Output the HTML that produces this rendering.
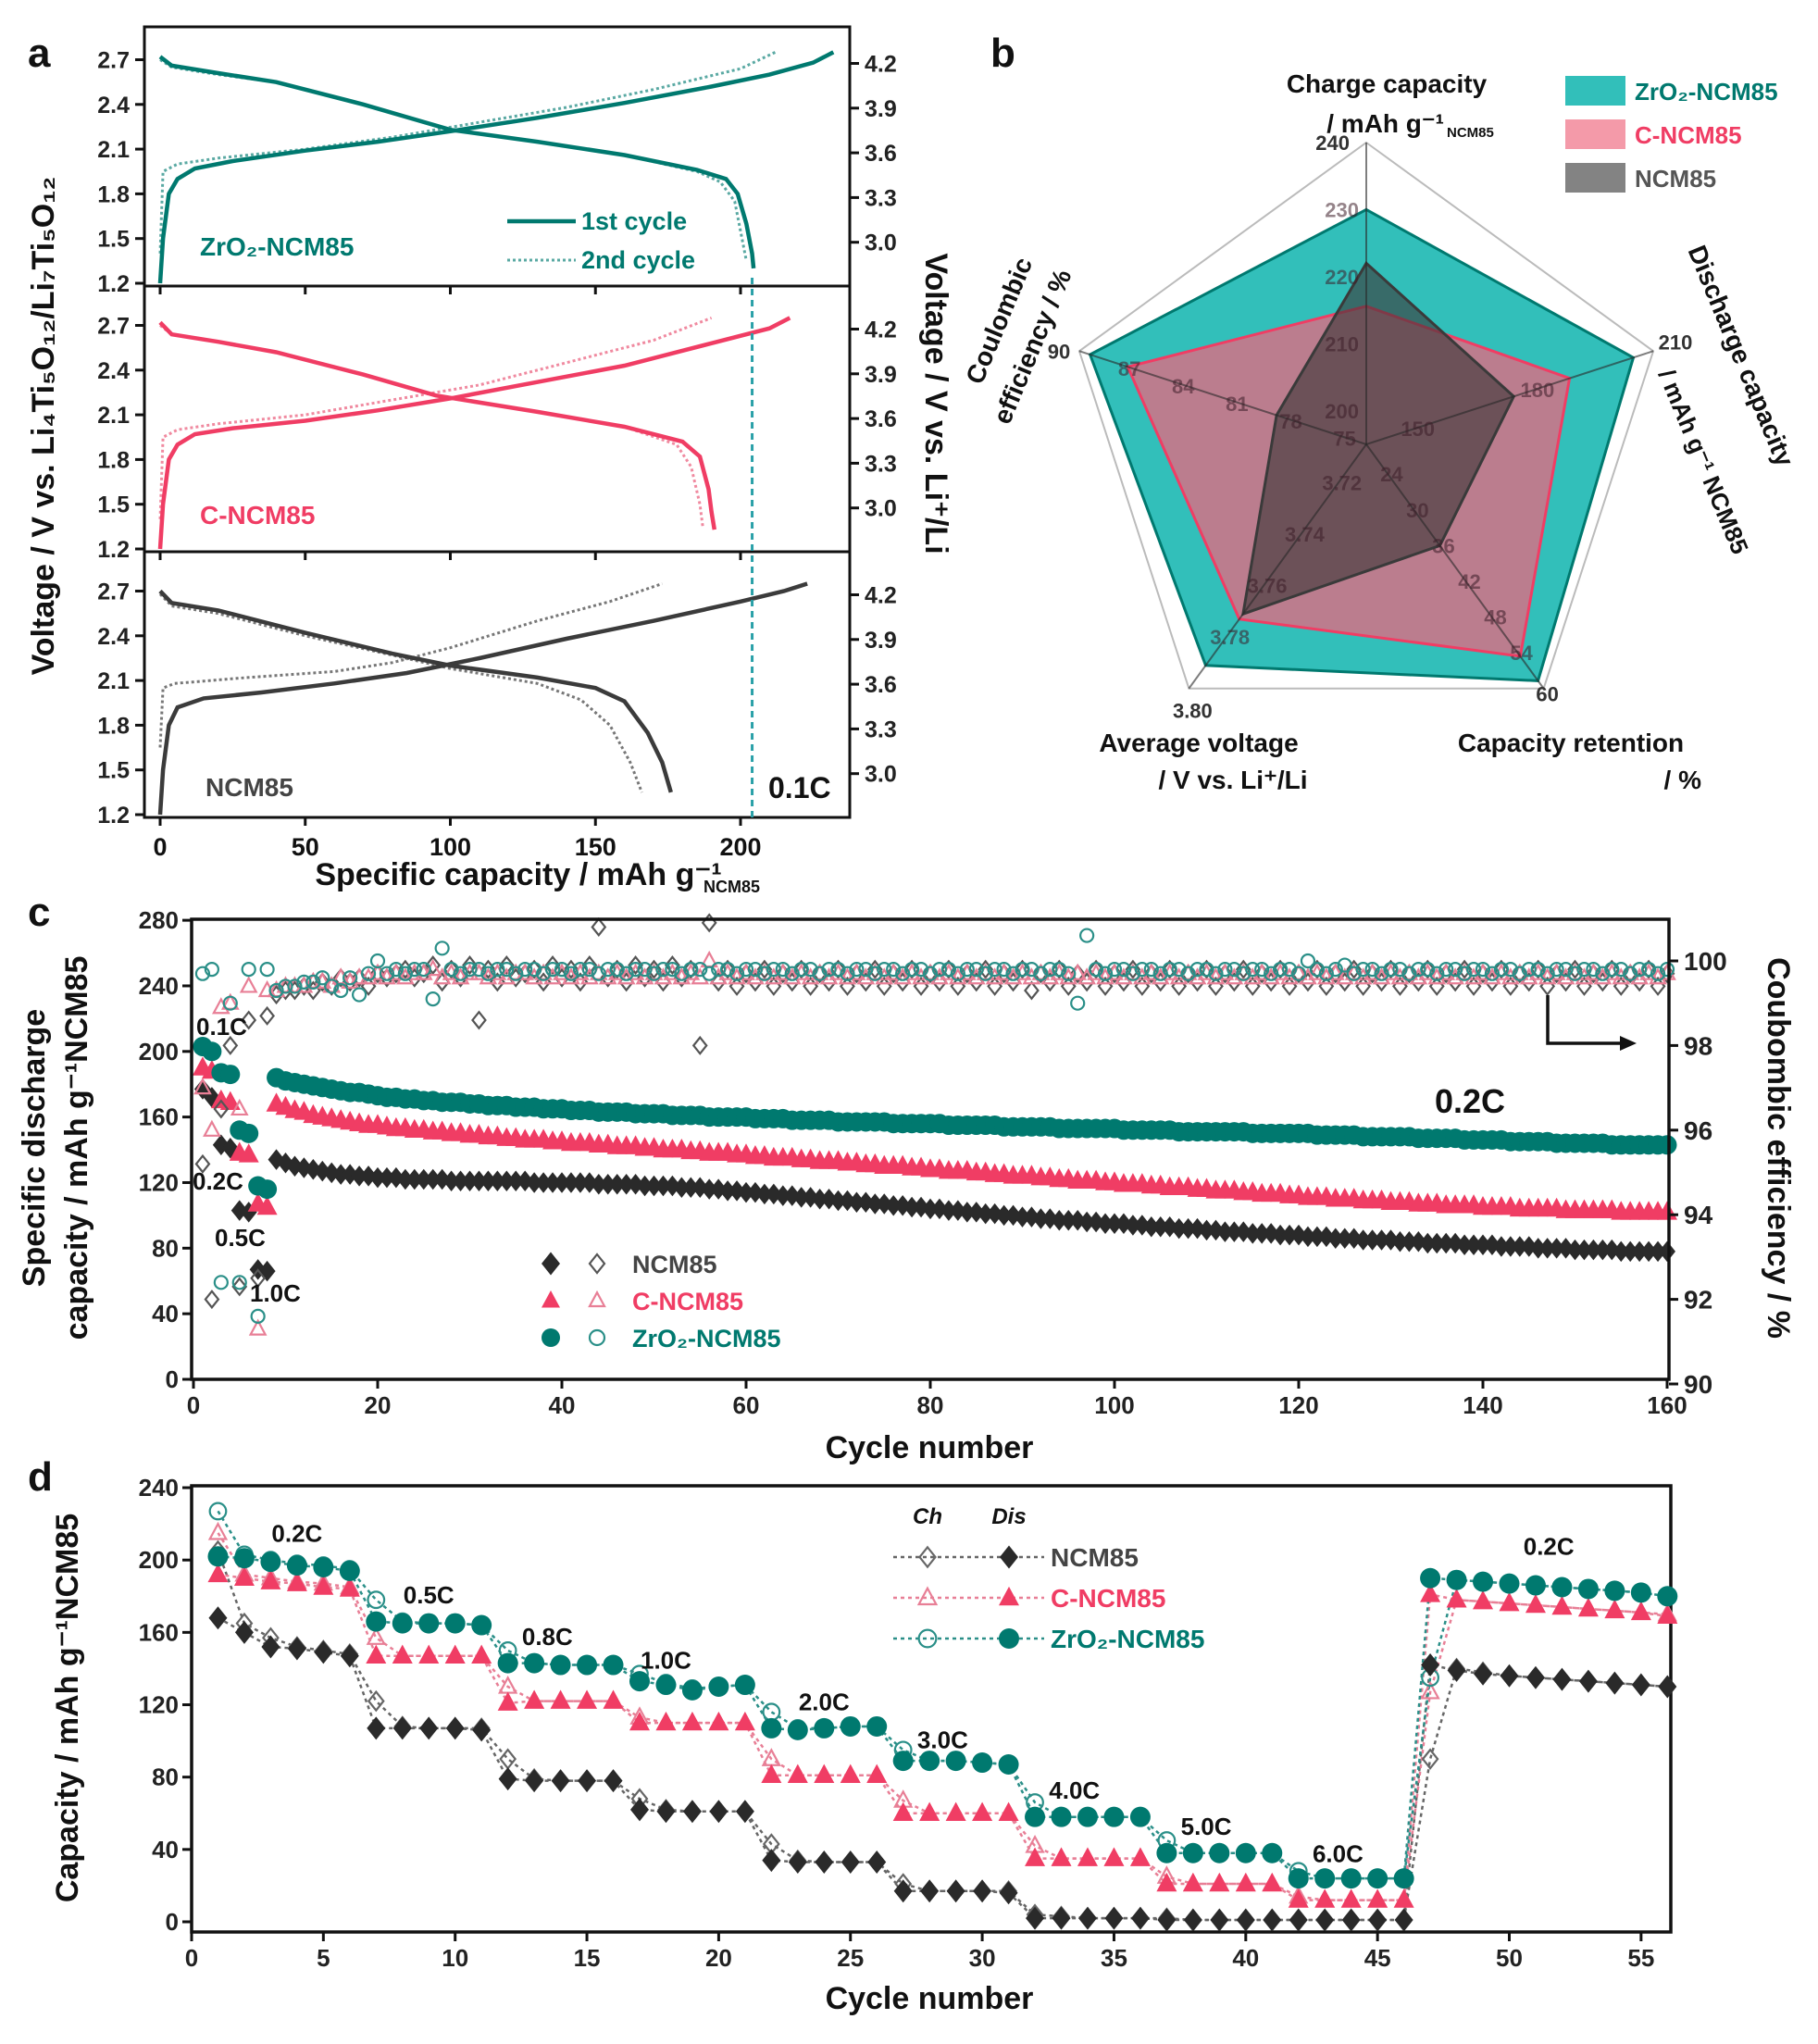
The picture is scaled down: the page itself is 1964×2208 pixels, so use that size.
<!DOCTYPE html>
<html><head><meta charset="utf-8">
<style>
html,body{margin:0;padding:0;background:#fff}
svg{display:block}
text{font-family:"Liberation Sans",sans-serif;font-weight:bold}
</style></head>
<body>
<svg id="fig" width="1964" height="2208" viewBox="0 0 1964 2208" xmlns="http://www.w3.org/2000/svg">
<g id="ga"></g>
<g id="gb"></g>
<g id="gc"></g>
<g id="gd"></g>
</svg>
<script>
// ===== Panel a data (capacity, voltage) =====
const zr1Ch=[[0,1.2],[1,1.5],[3,1.8],[6,1.9],[12,1.97],[25,2.02],[50,2.09],[75,2.15],[100,2.22],[130,2.31],[160,2.41],[190,2.52],[210,2.6],[225,2.68],[232,2.75]];
const zr1Dis=[[0,2.72],[4,2.66],[20,2.61],[40,2.55],[70,2.4],[100,2.23],[130,2.15],[160,2.06],[185,1.96],[195,1.9],[199,1.8],[202,1.6],[204,1.4],[204.5,1.3]];
const zr2Ch=[[0,1.4],[1,1.95],[6,2.0],[20,2.04],[50,2.1],[80,2.18],[110,2.28],[140,2.38],[170,2.5],[200,2.64],[212,2.75]];
const zr2Dis=[[0,2.7],[4,2.65],[20,2.6],[40,2.55],[70,2.4],[100,2.23],[130,2.15],[160,2.06],[185,1.95],[193,1.88],[198,1.75],[200,1.55],[202,1.35]];
const c1Ch=[[0,1.2],[1,1.5],[3,1.8],[6,1.9],[12,1.97],[25,2.01],[50,2.06],[75,2.13],[100,2.21],[130,2.32],[160,2.43],[190,2.58],[210,2.68],[217,2.75]];
const c1Dis=[[0,2.72],[4,2.64],[20,2.59],[40,2.52],[70,2.37],[95,2.23],[130,2.12],[160,2.02],[180,1.92],[186,1.82],[189,1.6],[190,1.45],[191,1.33]];
const c2Ch=[[0,1.4],[1,1.95],[6,2.0],[20,2.04],[50,2.1],[80,2.2],[110,2.3],[140,2.45],[170,2.6],[190,2.75]];
const c2Dis=[[0,2.7],[4,2.64],[20,2.59],[40,2.52],[70,2.37],[95,2.23],[130,2.12],[160,2.02],[178,1.9],[183,1.75],[186,1.5],[187,1.35]];
const n1Ch=[[0,1.2],[1,1.5],[3,1.8],[6,1.92],[15,1.98],[35,2.02],[60,2.08],[85,2.15],[110,2.25],[140,2.38],[170,2.5],[200,2.63],[215,2.7],[223,2.75]];
const n1Dis=[[0,2.7],[4,2.62],[20,2.57],[50,2.42],[80,2.28],[100,2.2],[130,2.12],[150,2.05],[160,1.96],[168,1.75],[173,1.55],[176,1.35]];
const n2Ch=[[0,1.65],[1,2.05],[5,2.08],[30,2.12],[60,2.16],[80,2.22],[100,2.32],[130,2.5],[155,2.63],[173,2.75]];
const n2Dis=[[0,2.68],[4,2.6],[20,2.55],[50,2.4],[80,2.27],[100,2.18],[130,2.08],[145,1.97],[155,1.8],[162,1.55],[166,1.35]];
const aYTicks=[1.2,1.5,1.8,2.1,2.4,2.7];
const aY2Ticks=[3.0,3.3,3.6,3.9,4.2];
const aXTicks=[0,50,100,150,200];

// ===== Panel b data =====
const bAxes=["Charge capacity","Discharge capacity","Capacity retention","Average voltage","Coulombic efficiency"];
const bMin=[195,138,19,3.705,74];
const bMax=[240,210,60,3.80,90];
const bZr=[230,205,58.7,3.791,89.4];
const bC=[215.6,189,54.6,3.773,87.3];
const bN=[222,175,36,3.771,79];
const bTickChargeV=[240,230,220,210,200];
const bTickDis=[210,180,150];
const bTickRet=[60,54,48,42,36,30,24];
const bTickVolt=[3.80,3.78,3.76,3.74,3.72];
const bTickCE=[90,87,84,81,78,75];

// ===== Panel c data =====
const capZr=[203,200,187,186,152,150,118,116,184,182,181,180,179,178,177,176,175,175,174,173,
172,172,171,171,170,170,169,169,169,168,168,167,167,167,166,166,166,165,165,165,
164,164,164,163,163,163,163,162,162,162,162,161,161,161,161,160,160,160,160,160,
159,159,159,159,158,158,158,158,158,157,157,157,157,157,157,156,156,156,156,156,
156,155,155,155,155,155,155,154,154,154,154,154,154,153,153,153,153,153,153,153,
152,152,152,152,152,152,151,151,151,151,151,151,151,151,150,150,150,150,150,150,
150,149,149,149,149,149,148,148,148,148,148,148,147,147,147,147,147,146,146,146,
146,146,145,145,145,145,145,144,144,144,144,144,144,143,143,143,143,143,143,143];
const capC=[190,188,170,169,138,137,107,105,168,166,164,163,161,160,159,158,157,156,155,155,
154,153,153,152,152,151,151,150,150,149,149,148,148,147,147,146,146,146,145,145,
144,144,144,143,143,142,142,142,141,141,140,140,140,139,139,138,138,138,137,137,
136,136,135,135,135,134,134,133,133,133,132,132,131,131,130,130,130,129,129,128,
128,127,127,127,126,126,125,125,124,124,124,123,123,122,122,121,121,121,120,120,
119,119,119,118,118,117,117,117,116,116,115,115,115,114,114,113,113,113,112,112,
111,111,111,110,110,110,109,109,109,108,108,108,107,107,107,106,106,106,106,105,
105,105,105,104,104,104,104,104,103,103,103,103,103,103,102,102,102,102,102,102];
const capN=[177,172,143,141,103,102,67,66,134,132,130,129,128,127,126,125,125,124,124,123,
123,123,122,122,122,122,122,121,121,121,121,121,121,121,121,121,120,120,120,120,
120,120,120,119,119,119,119,119,118,118,118,118,117,117,117,116,116,115,115,114,
114,113,113,112,112,111,111,110,110,109,109,108,108,107,107,106,106,105,105,104,
104,103,103,102,102,101,101,100,100,99,99,98,98,97,97,97,96,96,95,95,
95,94,94,93,93,93,92,92,92,91,91,90,90,90,89,89,89,88,88,88,
87,87,87,86,86,86,85,85,85,85,84,84,84,83,83,83,83,82,82,82,
82,81,81,81,81,80,80,80,80,79,79,79,79,79,78,78,78,78,78,78];
const ceN=[95.2,92.0,96.5,98.0,92.3,98.6,92.5,98.7,99.2,99.3,
99.3,99.4,99.3,99.5,99.4,99.6,99.5,99.6,99.4,99.7,99.6,99.7,99.8,99.6,99.7,99.9,99.5,99.8,99.6,99.9,
98.6,99.8,99.5,99.9,99.6,99.7,99.8,99.5,99.9,99.6,99.8,99.5,99.9,100.8,99.6,99.8,99.5,99.9,99.6,99.8,
99.5,99.9,99.6,99.8,98.0,100.9,99.5,99.8,99.4,99.7,99.5,99.8,99.4,99.7,99.5,99.8,99.4,99.7,99.5,99.8,
99.4,99.7,99.5,99.8,99.4,99.7,99.5,99.8,99.4,99.7,99.5,99.8,99.4,99.7,99.5,99.8,99.4,99.7,99.5,99.8,
99.3,99.7,99.5,99.8,99.4,99.7,99.5,99.8,99.4,99.7,99.5,99.8,99.4,99.7,99.5,99.8,99.4,99.7,99.5,99.8,
99.4,99.7,99.5,99.8,99.4,99.7,99.5,99.8,99.4,99.7,99.5,99.8,99.4,99.7,99.5,99.8,99.4,99.7,99.5,99.8,
99.4,99.7,99.5,99.8,99.4,99.7,99.5,99.8,99.4,99.7,99.5,99.8,99.4,99.7,99.5,99.8,99.4,99.7,99.5,99.8,
99.4,99.7,99.5,99.8,99.4,99.7,99.5,99.8,99.4,99.7];
const ceC=[97.0,96.0,98.9,99.0,96.5,99.4,91.3,99.3,99.3,99.4,
99.4,99.4,99.5,99.5,99.4,99.6,99.5,99.6,99.6,99.7,99.6,99.7,99.6,99.7,99.7,99.8,99.6,99.7,99.6,99.7,
99.7,99.6,99.7,99.6,99.7,99.7,99.6,99.7,99.6,99.7,99.6,99.7,99.6,99.7,99.6,99.7,99.6,99.7,99.6,99.7,
99.6,99.7,99.6,99.7,99.6,100.0,99.6,99.7,99.6,99.7,99.6,99.7,99.6,99.7,99.6,99.7,99.6,99.7,99.6,99.7,
99.6,99.7,99.6,99.7,99.6,99.7,99.6,99.7,99.6,99.7,99.6,99.7,99.6,99.7,99.6,99.7,99.6,99.7,99.6,99.7,
99.6,99.7,99.6,99.7,99.6,99.7,99.6,99.7,99.6,99.7,99.6,99.7,99.6,99.7,99.6,99.7,99.6,99.7,99.6,99.7,
99.6,99.7,99.6,99.7,99.6,99.7,99.6,99.7,99.6,99.7,99.6,99.7,99.6,99.7,99.6,99.7,99.6,99.7,99.6,99.7,
99.6,99.7,99.6,99.7,99.6,99.7,99.6,99.7,99.6,99.7,99.6,99.7,99.6,99.7,99.6,99.7,99.6,99.7,99.6,99.7,
99.6,99.7,99.6,99.7,99.6,99.7,99.6,99.7,99.6,99.7];
const ceZ=[99.7,99.8,92.4,99.0,92.4,99.8,91.6,99.8,99.3,99.4,
99.4,99.5,99.5,99.6,99.4,99.3,99.6,99.2,99.7,100.0,99.7,99.8,99.7,99.8,99.8,99.1,100.3,99.8,99.7,99.8,
99.8,99.7,99.8,99.8,99.7,99.8,99.8,99.7,99.8,99.8,99.7,99.8,99.8,99.7,99.8,99.8,99.7,99.8,99.8,99.7,
99.8,99.8,99.7,99.8,99.8,99.7,99.8,99.8,99.7,99.8,99.8,99.7,99.8,99.8,99.7,99.8,99.8,99.7,99.8,99.8,
99.7,99.8,99.8,99.7,99.8,99.8,99.7,99.8,99.8,99.7,99.8,99.8,99.7,99.8,99.8,99.7,99.8,99.8,99.7,99.8,
99.8,99.7,99.8,99.8,99.7,99.0,100.6,99.8,99.7,99.8,99.8,99.7,99.8,99.8,99.7,99.8,99.8,99.7,99.8,99.8,
99.7,99.8,99.8,99.7,99.8,99.8,99.7,99.8,99.8,99.7,100.0,99.8,99.7,99.8,99.9,99.7,99.8,99.8,99.7,99.8,
99.8,99.7,99.8,99.8,99.7,99.8,99.8,99.7,99.8,99.8,99.7,99.8,99.8,99.7,99.8,99.8,99.7,99.8,99.8,99.7,
99.8,99.8,99.7,99.8,99.8,99.7,99.8,99.8,99.7,99.8];
const cYTicks=[0,40,80,120,160,200,240,280];
const cY2Ticks=[90,92,94,96,98,100];
const cXTicks=[0,20,40,60,80,100,120,140,160];

// ===== Panel d data =====
const dNDis=[168,160,152,151,149,147,107,107,107,107,106,79,78,78,78,78,62,61,61,61,61,34,33,33,33,33,17,17,17,17,16,2,2,2,2,2,1,1,1,1,1,1,1,1,1,1,142,139,137,136,135,134,133,132,131,130];
const dNCh=[205,165,157,152,150,148,122,108,107,107,107,90,79,78,78,78,68,62,61,61,61,43,34,33,33,33,21,17,17,17,17,4,3,2,2,2,2,1,1,1,1,1,1,1,1,1,90,140,138,136,135,134,133,132,131,130];
const dCDis=[192,190,188,187,185,184,147,147,147,147,147,121,122,122,122,122,110,110,110,110,110,81,81,81,81,81,60,60,60,60,60,35,35,35,35,35,21,21,21,21,21,12,12,12,12,12,181,178,177,176,175,174,173,172,171,169];
const dCCh=[215,192,190,188,187,185,157,147,147,147,147,130,122,122,122,122,113,110,110,110,110,90,81,81,81,81,67,60,60,60,60,42,35,35,35,35,25,21,21,21,21,14,12,12,12,12,127,178,177,176,175,174,173,172,171,170];
const dZDis=[202,201,199,197,196,194,166,165,165,165,164,143,143,142,142,142,133,131,128,130,131,107,106,107,108,108,89,89,89,88,87,58,58,58,58,58,38,38,38,38,38,24,24,24,24,24,190,189,188,187,186,185,184,183,182,180];
const dZCh=[227,203,200,198,197,195,178,166,165,165,164,150,143,142,142,142,137,132,129,130,131,116,107,107,108,108,95,89,89,88,87,66,58,58,58,58,45,38,38,38,38,28,24,24,24,24,135,189,188,187,186,185,184,183,182,180];
const dRates=["0.2C","0.5C","0.8C","1.0C","2.0C","3.0C","4.0C","5.0C","6.0C","0.2C"];
const dRateCycle=[4,9,13.5,18,24,28.5,33.5,38.5,43.5,51.5];
const dRateVal=[210,176,153,140,117,96,68,48,33,203];
const dYTicks=[0,40,80,120,160,200,240];
const dXTicks=[0,5,10,15,20,25,30,35,40,45,50,55];

// ===== helpers =====
const NS="http://www.w3.org/2000/svg";
const TEAL="#00796f", PINK="#f03d64", DARK="#2a2a2a";
function mk(tag,attrs,parent){const e=document.createElementNS(NS,tag);for(const k in attrs)e.setAttribute(k,String(attrs[k]));parent.appendChild(e);return e;}
function txt(parent,x,y,s,size,anchor,fill,name){const t=mk('text',{x:x,y:y,'font-size':size,'text-anchor':anchor||'middle',fill:fill||'#111'},parent);t.textContent=s;


return t;}
function marker(parent,shape,x,y,s,filled,color,name){let e;
if(shape==='d'){e=mk('path',{d:'M'+x+','+(y-s*1.25)+'L'+(x+s)+','+y+'L'+x+','+(y+s*1.25)+'L'+(x-s)+','+y+'Z'},parent);}
else if(shape==='t'){e=mk('path',{d:'M'+x+','+(y-s*1.1)+'L'+(x+s)+','+(y+s*0.75)+'L'+(x-s)+','+(y+s*0.75)+'Z'},parent);}
else{e=mk('circle',{cx:x,cy:y,r:s},parent);}
if(filled){e.setAttribute('fill',color);}else{e.setAttribute('fill','none');e.setAttribute('stroke',color);e.setAttribute('stroke-width','2.2');}


return e;}

// ===== Panel a =====
try{(function(){
const g=document.getElementById('ga');
const X0=156,X1=918;
const xs=c=>173+c*3.135;
const bottoms=[309,596,883];
const tops=[29,309,596];
const ys=(v,k)=>bottoms[k]-3-(v-1.2)*161;
const series=[[zr1Ch,zr1Dis,zr2Ch,zr2Dis,TEAL,"#5aa9a3","zro2"],[c1Ch,c1Dis,c2Ch,c2Dis,PINK,"#f08aa0","c-ncm85"],[n1Ch,n1Dis,n2Ch,n2Dis,"#3b3b3b","#777","ncm85"]];
for(let k=0;k<3;k++){
  const fr=mk('rect',{x:X0,y:tops[k],width:X1-X0,height:bottoms[k]-tops[k],fill:'none',stroke:'#111','stroke-width':3},g);
  
  
  aYTicks.forEach(v=>{const y=ys(v,k);mk('line',{x1:X0-10,x2:X0,y1:y,y2:y,stroke:'#111','stroke-width':3},g);
    txt(g,X0-16,y+9,v.toFixed(1),25,'end','#222','a-ytick-label');});
  aY2Ticks.forEach(v=>{const y=ys(v-1.5,k)+4;mk('line',{x1:X1,x2:X1+10,y1:y,y2:y,stroke:'#111','stroke-width':3},g);
    txt(g,X1+16,y+9,v.toFixed(1),25,'start','#222','a-y2tick-label');});
  aXTicks.forEach(c=>{mk('line',{x1:xs(c),x2:xs(c),y1:bottoms[k],y2:bottoms[k]+9,stroke:'#111','stroke-width':3},g);});
  const s=series[k];
  const path=(arr)=>arr.map((p,i)=>(i?'L':'M')+xs(p[0]).toFixed(1)+','+ys(p[1],k).toFixed(1)).join('');
  [[s[2],s[5],true,'2nd-charge'],[s[3],s[5],true,'2nd-discharge'],[s[0],s[4],false,'1st-charge'],[s[1],s[4],false,'1st-discharge']].forEach(q=>{
    const p=mk('path',{d:path(q[0]),fill:'none',stroke:q[1],'stroke-width':q[2]?3:4.5,'stroke-dasharray':q[2]?'3,3':'none'},g);
    
    
  });
}
aXTicks.forEach(c=>txt(g,xs(c),924,String(c),27,'middle','#111','a-xtick-label'));
const vl=mk('line',{x1:xs(204),x2:xs(204),y1:300,y2:883,stroke:'#2aa0a8','stroke-width':3,'stroke-dasharray':'7,5'},g);


txt(g,30,72,'a',44,'start','#111','panel-a-letter');
txt(g,216,276,'ZrO\u2082-NCM85',28,'start',TEAL,'zro2-label');
txt(g,216,566,'C-NCM85',28,'start',PINK,'c-ncm85-label');
txt(g,222,860,'NCM85',28,'start','#444','ncm85-label');
txt(g,830,862,'0.1C',32,'start','#111','rate-label-a');
const l1=mk('line',{x1:548,x2:622,y1:239,y2:239,stroke:TEAL,'stroke-width':4.5},g);


const l2=mk('line',{x1:548,x2:622,y1:281,y2:281,stroke:'#5aa9a3','stroke-width':3,'stroke-dasharray':'3,3'},g);


txt(g,628,248,'1st cycle',27,'start',TEAL,'legend-1st-cycle');
txt(g,628,290,'2nd cycle',27,'start',TEAL,'legend-2nd-cycle');
const yt=txt(g,0,0,'Voltage / V vs. Li\u2084Ti\u2085O\u2081\u2082/Li\u2087Ti\u2085O\u2081\u2082',34,'middle','#111','a-left-axis-title');
yt.setAttribute('transform','translate(58,460) rotate(-90)');
const yt2=txt(g,0,0,'Voltage / V vs. Li\u207A/Li',34,'middle','#111','a-right-axis-title');
yt2.setAttribute('transform','translate(1000,436) rotate(90)');
txt(g,560,956,'Specific capacity / mAh g\u207B\u00B9',34,'middle','#111','a-x-axis-title');
txt(g,760,964,'NCM85',18,'start','#111','a-x-axis-subscript');
})();}catch(e){console.log(e);}

// ===== Panel b =====
try{(function(){
const g=document.getElementById('gb');
const CX=1476,CY=480,R=326;
const ang=i=>(-90+72*i)*Math.PI/180;
const pt=(i,v)=>{const r=(v-bMin[i])/(bMax[i]-bMin[i])*R;return [CX+r*Math.cos(ang(i)),CY+r*Math.sin(ang(i))];};
const outer=[0,1,2,3,4].map(i=>[CX+R*Math.cos(ang(i)),CY+R*Math.sin(ang(i))]);
const op=mk('polygon',{points:outer.map(p=>p.join(',')).join(' '),fill:'none',stroke:'#bbb','stroke-width':2},g);


const polys=[[bZr,'rgba(22,182,176,0.88)','#00796f','zro2-radar-area'],[bC,'rgba(240,100,125,0.72)','#f03d64','c-ncm85-radar-area'],[bN,'rgba(60,55,55,0.62)','#3a3a3a','ncm85-radar-area']];
polys.forEach(p=>{const pts=p[0].map((v,i)=>pt(i,v));
  const e=mk('polygon',{points:pts.map(q=>q.map(n=>n.toFixed(1)).join(',')).join(' '),fill:p[1],stroke:p[2],'stroke-width':3},g);
  
  });
outer.forEach((p,i)=>{const l=mk('line',{x1:CX,y1:CY,x2:p[0],y2:p[1],stroke:'rgba(40,40,40,0.6)','stroke-width':2},g);
  
  });
const tickSets=[bTickChargeV,bTickDis,bTickRet,bTickVolt,bTickCE];
tickSets.forEach((arr,i)=>arr.forEach((v,j)=>{const p=pt(i,v);const outerT=j===0;
  const lab=i===3?v.toFixed(2):String(v);
  let dx=i===0?-8:(i===4?-4:4), dy=8;
  if(outerT){ if(i===0)dx=-18; if(i===1){dx=24;dy=-2;} if(i===4)dx=-22; if(i===3)dy=32; if(i===2)dy=14; }
  txt(g,p[0]+dx,p[1]+dy,lab,22,i===0?'end':'middle',outerT?'#333':'rgba(60,30,40,0.55)','radar-tick-label');}));
txt(g,1070,72,'b',44,'start','#111','panel-b-letter');
txt(g,1498,100,'Charge capacity',28,'middle','#111','charge-capacity-label');
txt(g,1560,143,'/ mAh g\u207B\u00B9',28,'end','#111','charge-capacity-unit');
txt(g,1563,148,'NCM85',15,'start','#111','charge-unit-sub');
const d1=txt(g,0,0,'Discharge capacity',28,'middle','#111','discharge-capacity-label');
d1.setAttribute('transform','translate(1872,388) rotate(67.5)');
const d2=txt(g,0,0,'/ mAh g\u207B\u00B9 NCM85',26,'middle','#111','discharge-capacity-unit');
d2.setAttribute('transform','translate(1832,502) rotate(67.5)');
const e1=txt(g,0,0,'Coulombic',28,'middle','#111','coulombic-label');
e1.setAttribute('transform','translate(1088,350) rotate(-67.5)');
const e2=txt(g,0,0,'efficiency / %',28,'middle','#111','coulombic-unit');
e2.setAttribute('transform','translate(1124,378) rotate(-67.5)');
txt(g,1295,812,'Average voltage',28,'middle','#111','average-voltage-label');
txt(g,1332,852,'/ V vs. Li\u207A/Li',28,'middle','#111','average-voltage-unit');
txt(g,1697,812,'Capacity retention',28,'middle','#111','capacity-retention-label');
txt(g,1838,852,'/ %',28,'end','#111','capacity-retention-unit');
const leg=[['rgba(22,182,176,0.88)','ZrO\u2082-NCM85',TEAL],['rgba(240,120,140,0.75)','C-NCM85',PINK],['rgba(90,90,90,0.75)','NCM85','#555']];
leg.forEach((l,i)=>{const y=82+i*47;const r=mk('rect',{x:1691,y:y,width:65,height:32,fill:l[0]},g);
  
  
  txt(g,1766,y+26,l[1],26,'start',l[2],'radar-legend-entry');});
})();}catch(e){console.log(e);}

// ===== Panel c =====
try{(function(){
const g=document.getElementById('gc');
const X0=207,X1=1803,Y0=1490,Y1=993;
const xs=c=>209+c*9.95;
const ys=v=>1490-v*1.771;
const y2=v=>1495-(v-90)*45.7;
const caps=[[capN,'d',DARK,'ncm85-capacity-point',9],[capC,'t',PINK,'c-ncm85-capacity-point',11],[capZr,'c',TEAL,'zro2-capacity-point',10.5]];
caps.forEach(s=>{s[0].forEach((v,i)=>{marker(g,s[1],xs(i+1),ys(v),s[4],true,s[2],s[3]);});});
const sets=[[ceN,'d','#555','ncm85-ce-point'],[ceC,'t','#e87f96','c-ncm85-ce-point'],[ceZ,'c','#2a8f88','zro2-ce-point']];
sets.forEach(s=>{s[0].forEach((v,i)=>{marker(g,s[1],xs(i+1),y2(v),s[1]==='t'?8:7,false,s[2],s[3]);});});
const fr=mk('rect',{x:X0,y:Y1,width:X1-X0,height:Y0-Y1,fill:'none',stroke:'#111','stroke-width':3.5},g);


cYTicks.forEach(v=>{mk('line',{x1:X0-10,x2:X0,y1:ys(v),y2:ys(v),stroke:'#111','stroke-width':3},g);txt(g,X0-14,ys(v)+9,String(v),26,'end','#222','c-ytick-label');});
cY2Ticks.forEach(v=>{mk('line',{x1:X1,x2:X1+10,y1:y2(v),y2:y2(v),stroke:'#111','stroke-width':3},g);txt(g,X1+16,y2(v)+10,String(v),28,'start','#222','c-y2tick-label');});
cXTicks.forEach(v=>{mk('line',{x1:xs(v),x2:xs(v),y1:Y0,y2:Y0+10,stroke:'#111','stroke-width':3},g);txt(g,xs(v),Y0+37,String(v),26,'middle','#222','c-xtick-label');});
txt(g,212,1118,'0.1C',26,'start','#111','rate-label-0.1c');
txt(g,208,1285,'0.2C',26,'start','#111','rate-label-0.2c');
txt(g,232,1346,'0.5C',26,'start','#111','rate-label-0.5c');
txt(g,270,1406,'1.0C',26,'start','#111','rate-label-1.0c');
txt(g,1550,1202,'0.2C',36,'start','#111','rate-label-c-0.2c');
const ar=mk('path',{d:'M1672,1075 L1672,1127 L1752,1127',fill:'none',stroke:'#111','stroke-width':3.5},g);


const ah=mk('path',{d:'M1768,1127 L1750,1119 L1750,1135 Z',fill:'#111'},g);


const legs=[['d',DARK,'#555','NCM85','#444'],['t',PINK,'#e87f96','C-NCM85',PINK],['c',TEAL,'#2a8f88','ZrO\u2082-NCM85',TEAL]];
legs.forEach((l,i)=>{const y=1365+i*40;marker(g,l[0],595,y,10,true,l[1],'c-legend-filled-marker');marker(g,l[0],645,y,8,false,l[2],'c-legend-open-marker');
  txt(g,683,y+10,l[3],27,'start',l[4],'c-legend-entry');});
txt(g,30,1000,'c',44,'start','#111','panel-c-letter');
const t1=txt(g,0,0,'Specific discharge',34,'middle','#111','c-left-axis-title-line1');
t1.setAttribute('transform','translate(48,1240) rotate(-90)');
const t2=txt(g,0,0,'capacity / mAh g\u207B\u00B9NCM85',34,'middle','#111','c-left-axis-title-line2');
t2.setAttribute('transform','translate(94,1240) rotate(-90)');
const t3=txt(g,0,0,'Coubombic efficiency / %',34,'middle','#111','c-right-axis-title');
t3.setAttribute('transform','translate(1910,1240) rotate(90)');
txt(g,1004,1575,'Cycle number',34,'middle','#111','c-x-axis-title');
})();}catch(e){console.log(e);}

// ===== Panel d =====
try{(function(){
const g=document.getElementById('gd');
const X0=207,X1=1805,Y0=2087,Y1=1605;
const xs=c=>207+c*28.47;
const ys=v=>2076-v*1.954;
const fr=mk('rect',{x:X0,y:Y1,width:X1-X0,height:Y0-Y1,fill:'none',stroke:'#111','stroke-width':3.5},g);


dYTicks.forEach(v=>{mk('line',{x1:X0-10,x2:X0,y1:ys(v),y2:ys(v),stroke:'#111','stroke-width':3},g);txt(g,X0-14,ys(v)+9,String(v),26,'end','#222','d-ytick-label');});
dXTicks.forEach(v=>{mk('line',{x1:xs(v),x2:xs(v),y1:Y0,y2:Y0+10,stroke:'#111','stroke-width':3},g);txt(g,xs(v),Y0+37,String(v),26,'middle','#222','d-xtick-label');});
const series=[[dNCh,dNDis,'d',DARK,'#666','ncm85',10],[dCCh,dCDis,'t',PINK,'#e87f96','c-ncm85',11],[dZCh,dZDis,'c',TEAL,'#2a8f88','zro2',11]];
series.forEach(s=>{[s[0],s[1]].forEach((arr,j)=>{const pl=mk('polyline',{points:arr.map((v,i)=>xs(i+1).toFixed(1)+','+ys(v).toFixed(1)).join(' '),fill:'none',stroke:s[4],'stroke-width':2.5,'stroke-dasharray':'4,4'},g);
  
  });});
series.forEach(s=>{s[0].forEach((v,i)=>{marker(g,s[2],xs(i+1),ys(v),s[6]*0.8,false,s[4],s[5]+'-charge-point');});});
series.forEach(s=>{s[1].forEach((v,i)=>{marker(g,s[2],xs(i+1),ys(v),s[6],true,s[3],s[5]+'-discharge-point');});});
dRates.forEach((r,i)=>{txt(g,xs(dRateCycle[i]),ys(dRateVal[i]),r,26,'middle','#111','d-rate-label');});
const ch=txt(g,1002,1646,'Ch',24,'middle','#111','legend-ch-header');
ch.setAttribute('font-style','italic');
const di=txt(g,1090,1646,'Dis',24,'middle','#111','legend-dis-header');
di.setAttribute('font-style','italic');
const lg=[['d',DARK,'#666','NCM85','#444',10],['t',PINK,'#e87f96','C-NCM85',PINK,11],['c',TEAL,'#2a8f88','ZrO\u2082-NCM85',TEAL,11]];
lg.forEach((l,i)=>{const y=1682+i*44;const ln=mk('line',{x1:965,x2:1128,y1:y,y2:y,stroke:l[2],'stroke-width':2.5,'stroke-dasharray':'4,4'},g);
  
  
  marker(g,l[0],1002,y,l[5]*0.85,false,l[2],'d-legend-open-marker');marker(g,l[0],1090,y,l[5],true,l[1],'d-legend-filled-marker');
  txt(g,1135,y+10,l[3],28,'start',l[4],'d-legend-entry');});
txt(g,30,1610,'d',44,'start','#111','panel-d-letter');
const t1=txt(g,0,0,'Capacity / mAh g\u207B\u00B9NCM85',34,'middle','#111','d-left-axis-title');
t1.setAttribute('transform','translate(84,1845) rotate(-90)');
txt(g,1004,2170,'Cycle number',34,'middle','#111','d-x-axis-title');
})();}catch(e){console.log(e);}
</script>
</body></html>
